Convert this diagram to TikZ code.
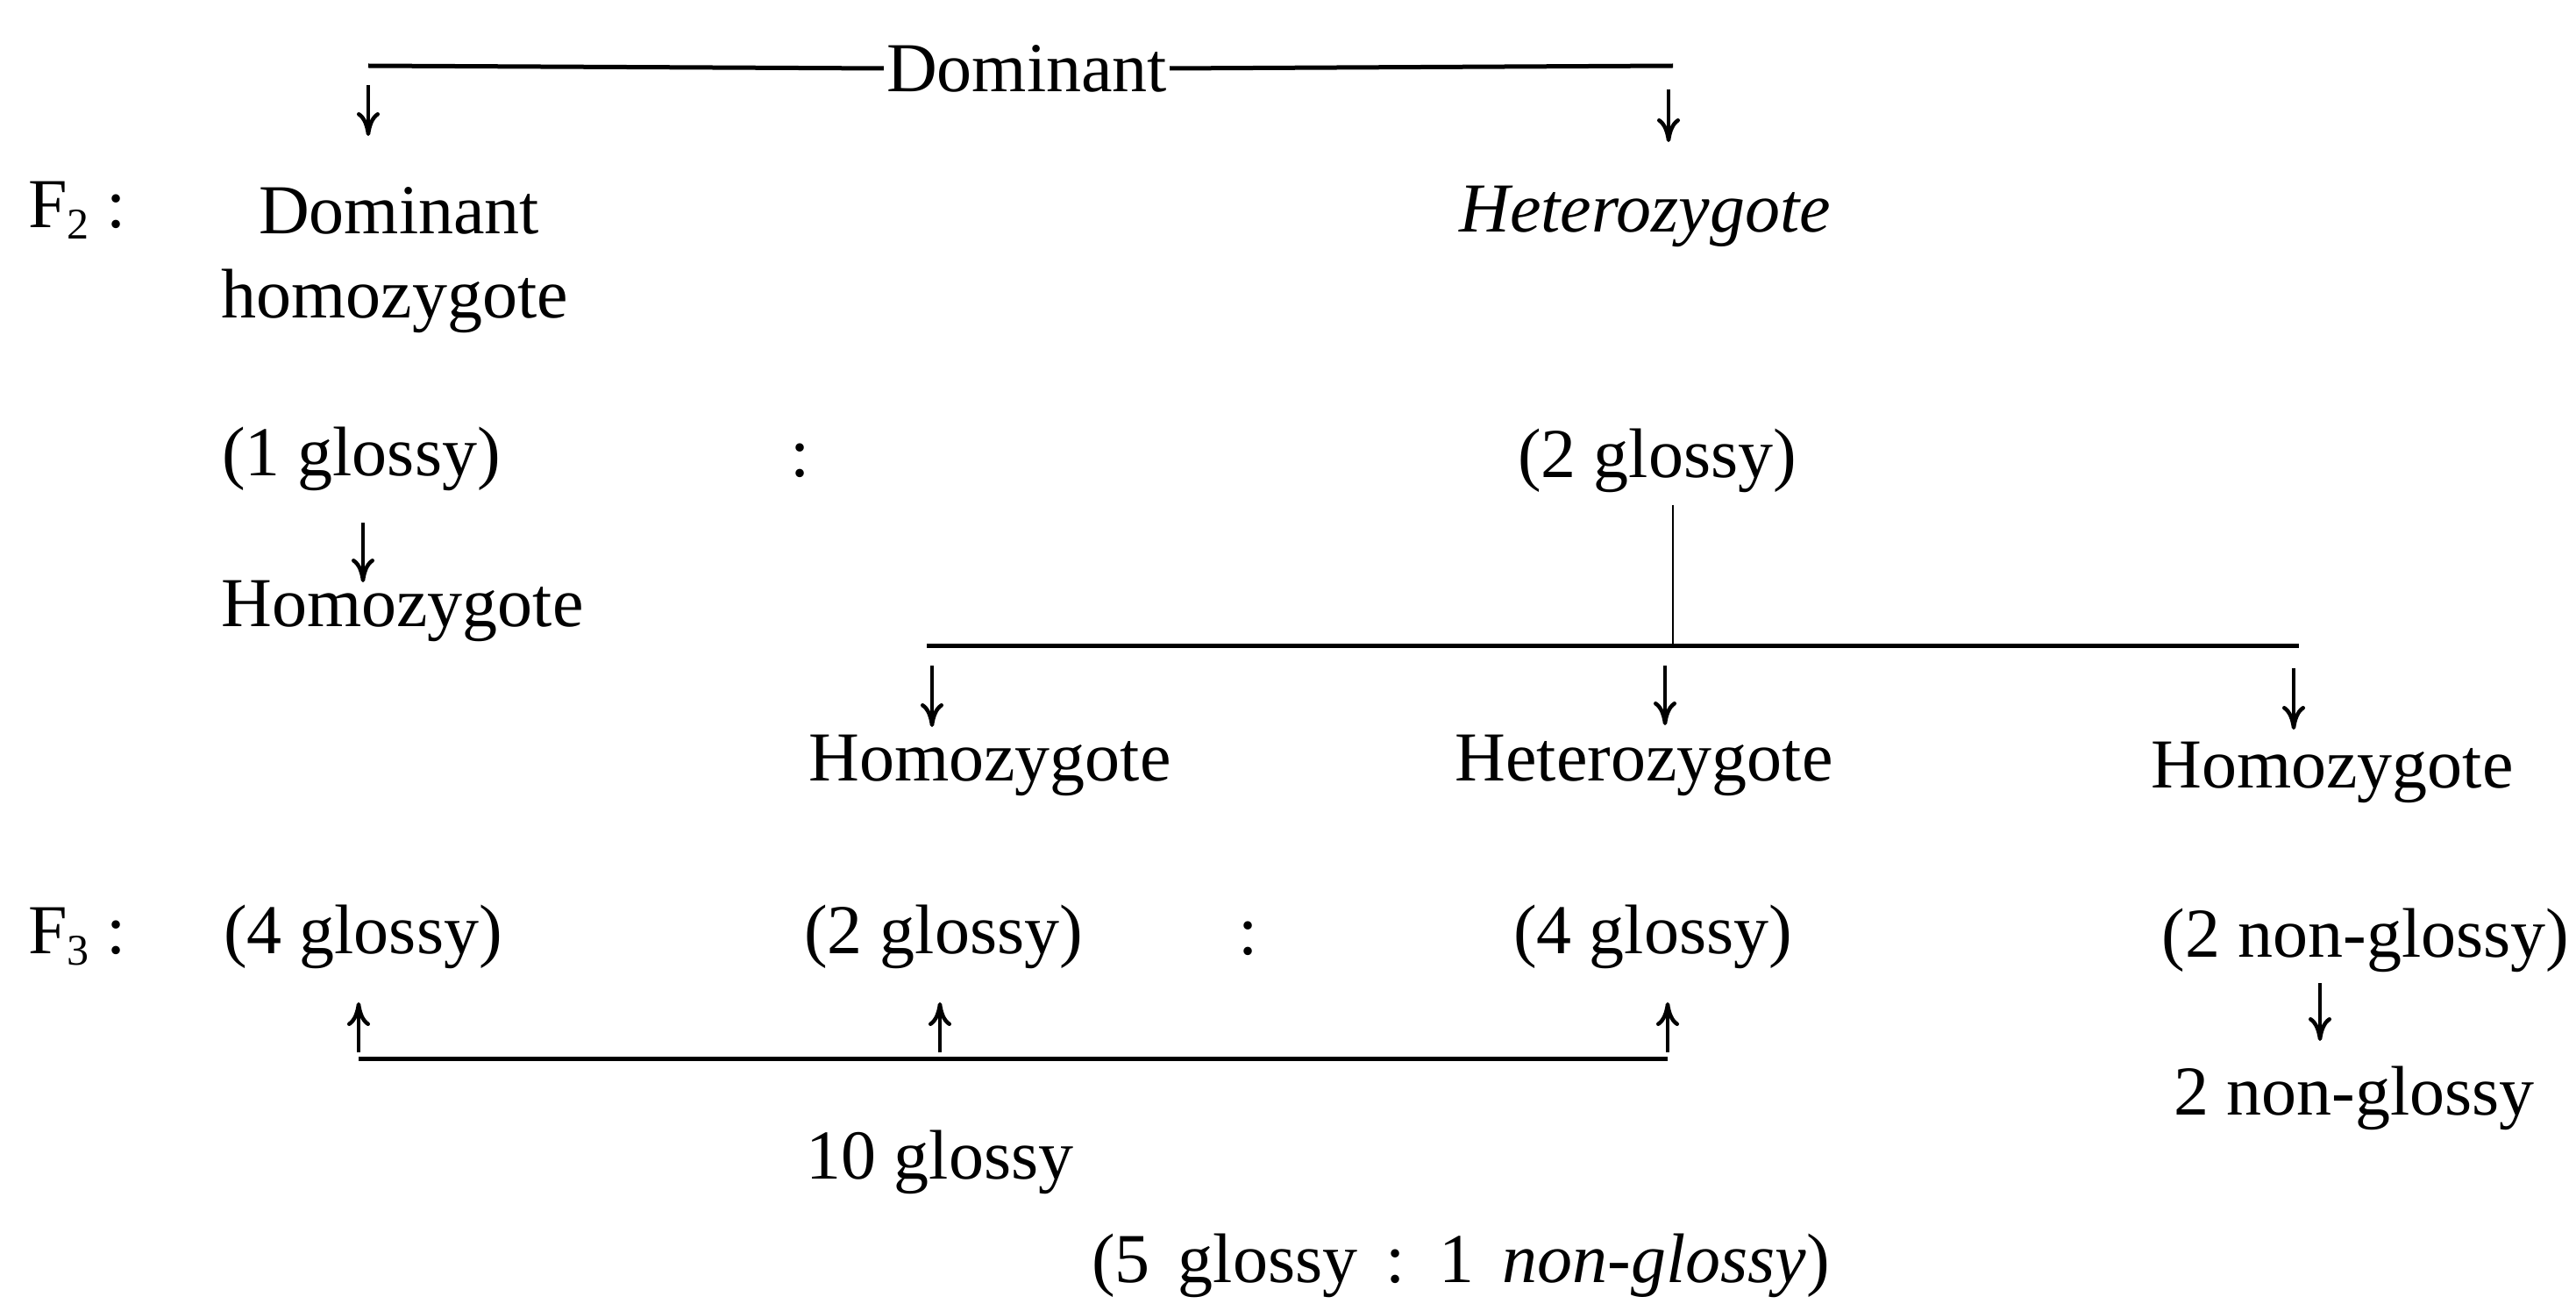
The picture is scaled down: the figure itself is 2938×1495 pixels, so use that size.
\documentclass[tikz,border=0pt]{standalone}
\usepackage{fontspec}
\setmainfont{Liberation Serif}
\usetikzlibrary{arrows.meta}
\newcommand{\mysubd}[1]{\raisebox{-0.35ex}{\fontsize{50}{52}\selectfont #1}}
\begin{document}
\begin{tikzpicture}[x=1pt,y=-1pt,
  lbl/.style={inner sep=0pt, font=\fontsize{80}{94}\selectfont},
  ln/.style={line width=5pt},
  thinln/.style={line width=2.5pt},
  arr/.style={line width=4.5pt,-{To[length=27pt,width=26pt]}}]
\useasboundingbox (0,0) rectangle (2938,1495);
% row 1
\node[lbl,inner xsep=3pt] (dom) at (1171,78) {Dominant};
\coordinate (tl) at (420,75);
\coordinate (tr) at (1908,75);
\coordinate (tla) at (420,97);
\coordinate (tlb) at (420,155);
\coordinate (tra) at (1903,102);
\coordinate (trb) at (1903,162);
\draw[ln] (dom.west) -- (tl);
\draw[ln] (dom.east) -- (tr);
\draw[arr] (tla) -- (tlb);
\draw[arr] (tra) -- (trb);
% row 2
\node[lbl] (f2) at (88,240) {F\mysubd{2} :};
\node[lbl] (domhom1) at (455,240) {Dominant};
\node[lbl] (domhom2) at (450,343) {homozygote};
\node[lbl,font=\fontsize{80}{94}\selectfont\itshape] (het1) at (1876,247) {Heterozygote};
% row 3
\node[lbl] (g1) at (412,523) {(1 glossy)};
\node[lbl] (col1) at (913,525) {:};
\node[lbl] (g2) at (1890,525) {(2 glossy)};
\coordinate (ha) at (414,596);
\coordinate (hb) at (414,664);
\draw[arr] (ha) -- (hb);
\node[lbl] (hom1) at (459,697) {Homozygote};
% second branch
\coordinate (vb) at (1908,736);
\coordinate (bl) at (1057,736);
\coordinate (br) at (2622,736);
\draw[thinln] ([yshift=-14pt]g2.south -| vb) -- (vb);
\draw[ln] (bl) -- (br);
\coordinate (a1a) at (1063,759);
\coordinate (a1b) at (1063,829);
\coordinate (a2a) at (1899,759);
\coordinate (a2b) at (1899,827);
\coordinate (a3a) at (2616,762);
\coordinate (a3b) at (2616,832);
\draw[arr] (a1a) -- (a1b);
\draw[arr] (a2a) -- (a2b);
\draw[arr] (a3a) -- (a3b);
% row 4
\node[lbl] (hom2) at (1129,873) {Homozygote};
\node[lbl] (het2) at (1875,873) {Heterozygote};
\node[lbl] (hom3) at (2660,881) {Homozygote};
% row 5
\node[lbl] (f3) at (88,1068) {F\mysubd{3} :};
\node[lbl] (g4a) at (414,1068) {(4 glossy)};
\node[lbl] (g2b) at (1076,1068) {(2 glossy)};
\node[lbl] (col2) at (1424,1070) {:};
\node[lbl] (g4b) at (1885,1068) {(4 glossy)};
\node[lbl] (ng2) at (2698,1072) {(2 non-glossy)};
% up arrows
\coordinate (u1a) at (409,1200);
\coordinate (u1b) at (409,1143);
\coordinate (u2a) at (1072,1200);
\coordinate (u2b) at (1072,1143);
\coordinate (u3a) at (1902,1200);
\coordinate (u3b) at (1902,1143);
\draw[arr] (u1a) -- (u1b);
\draw[arr] (u2a) -- (u2b);
\draw[arr] (u3a) -- (u3b);
\draw[ln] (u1a |- 0,1207) -- (u3a |- 0,1207);
% non-glossy arrow
\coordinate (na) at (2646,1121);
\coordinate (nb) at (2646,1187);
\draw[arr] (na) -- (nb);
\node[lbl] (ng) at (2685,1252) {2 non-glossy};
% bottom
\node[lbl] (g10) at (1072,1325) {10 glossy};
\node[lbl] (ratio) at (1666,1443) {(5\hspace{12pt} glossy\hspace{12pt} :\hspace{12pt} 1\hspace{12pt} \textit{non-glossy})};
\end{tikzpicture}
\end{document}
